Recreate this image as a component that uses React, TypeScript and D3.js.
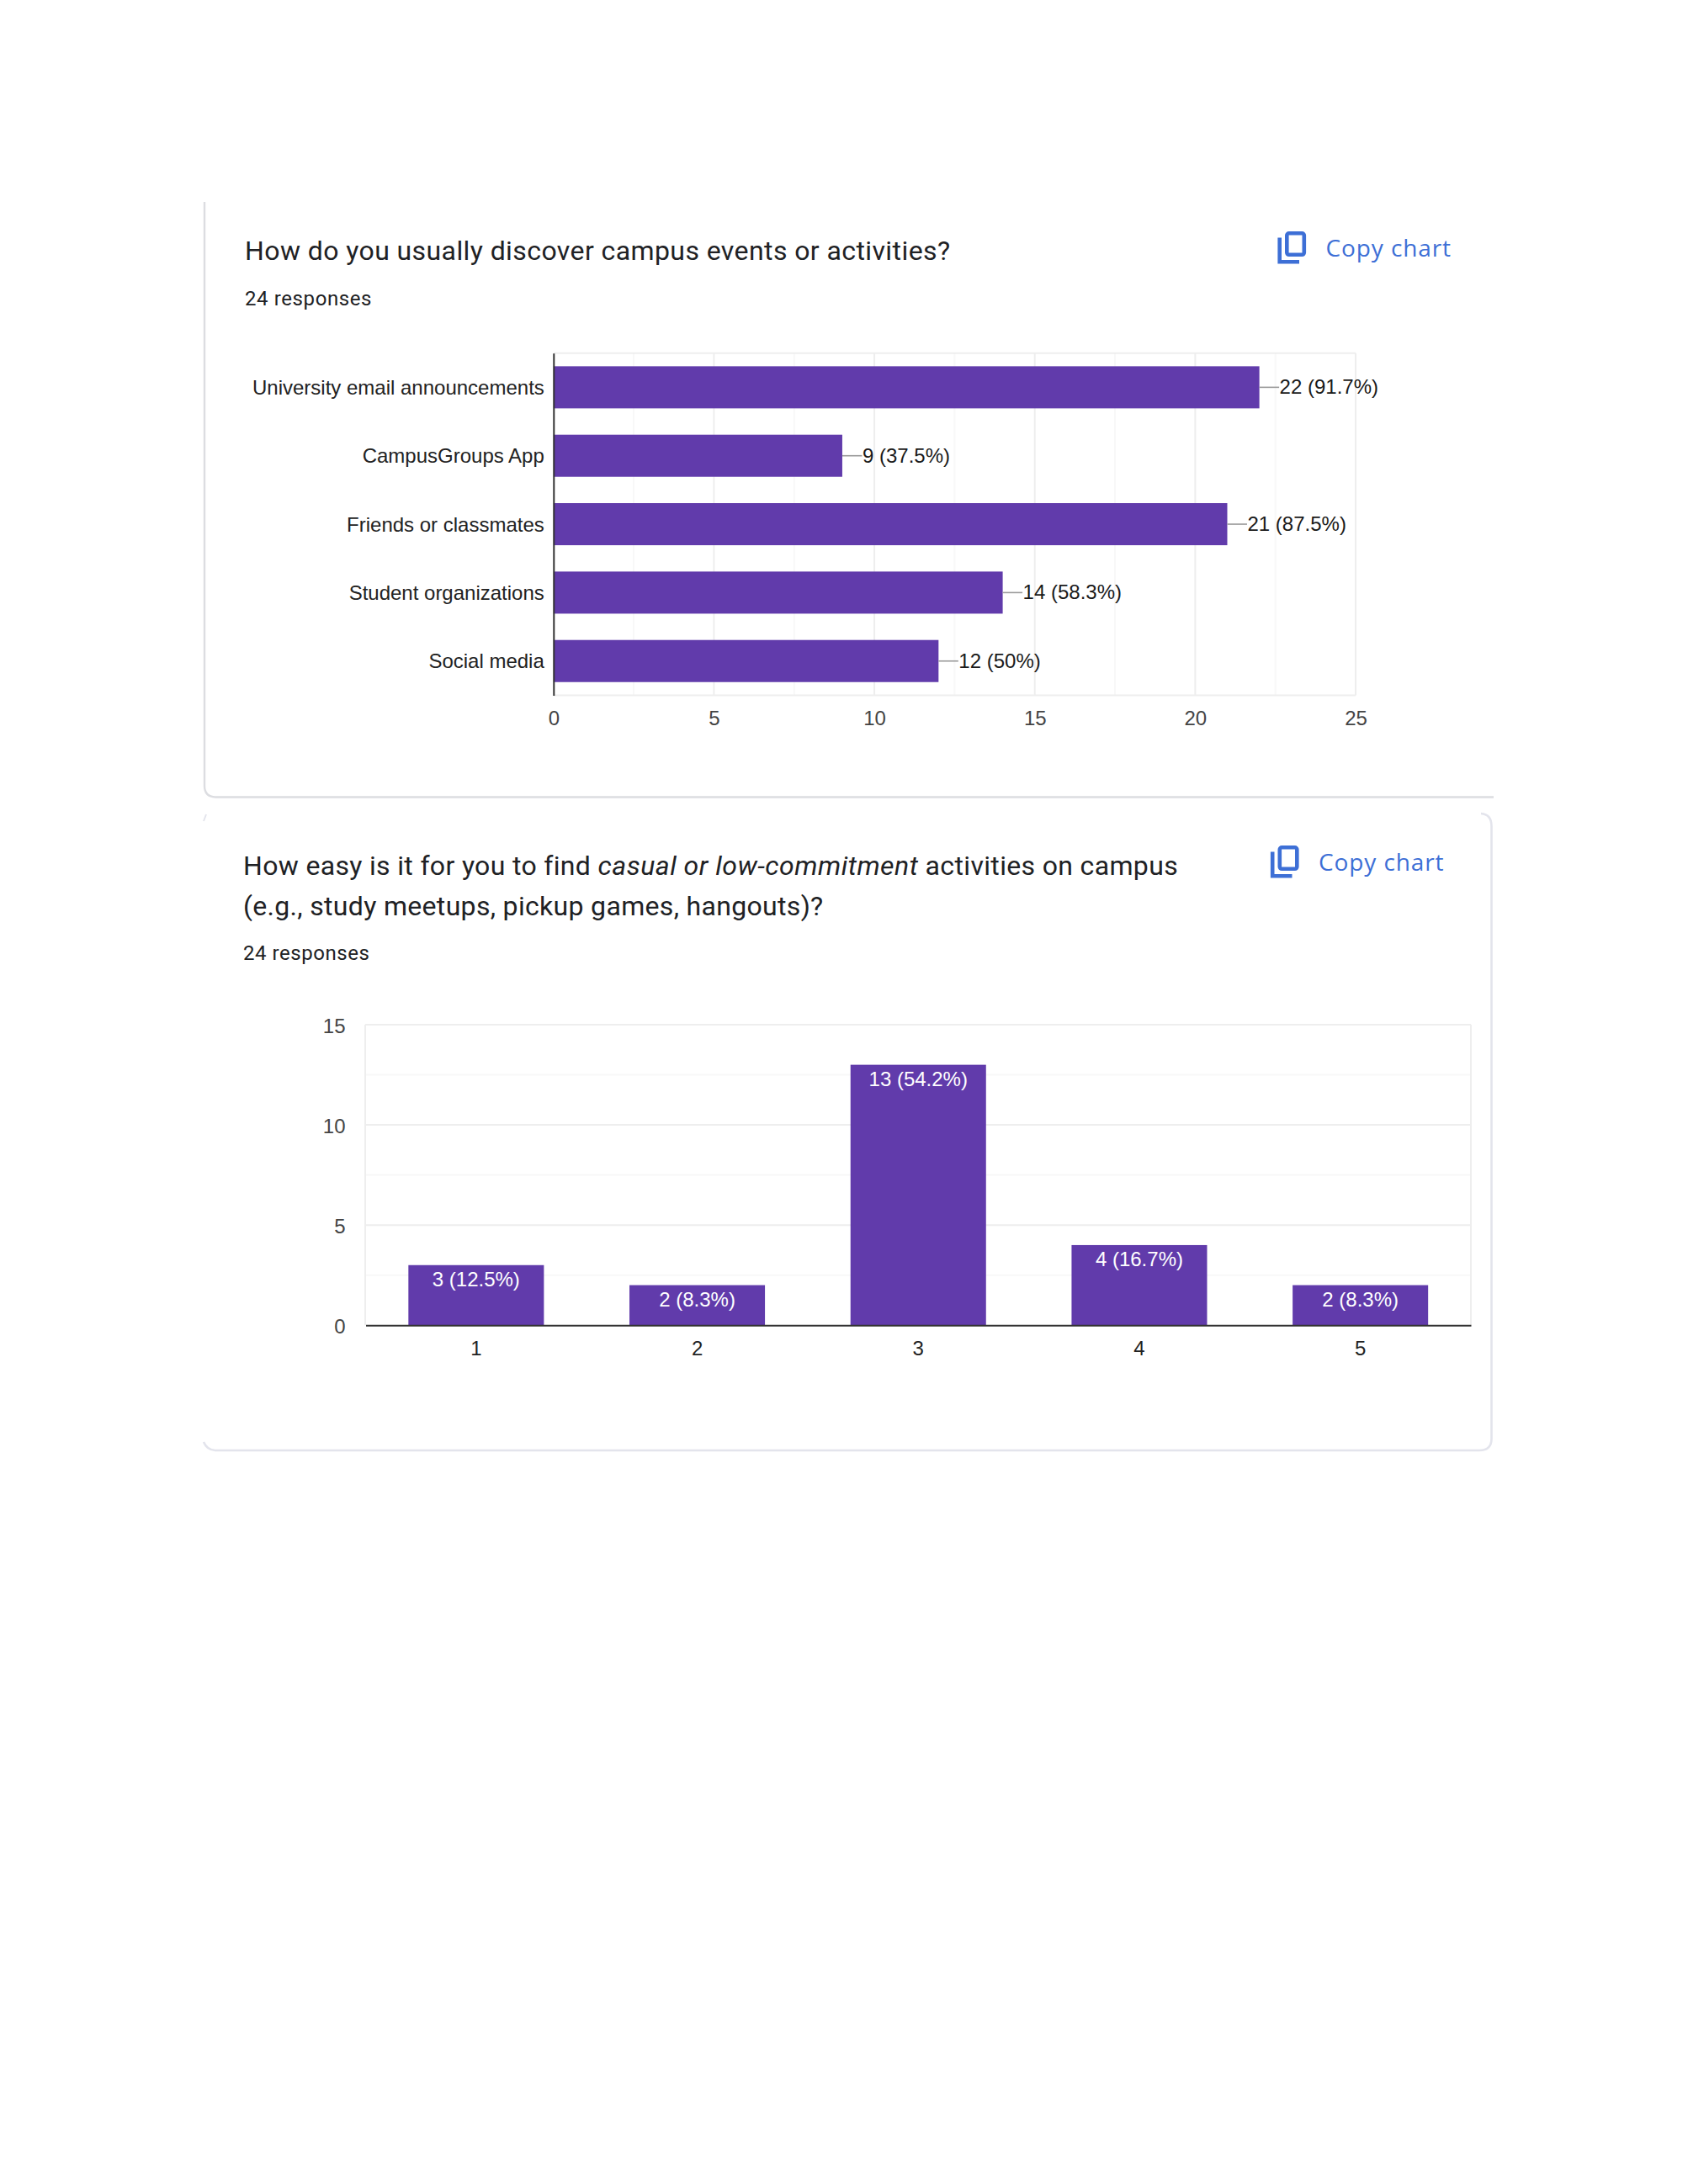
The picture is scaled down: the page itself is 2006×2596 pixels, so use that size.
import * as d3 from "d3";
import React, { useEffect, useRef } from "react";

const sourceLabels = [
  "University email announcements",
  "CampusGroups App",
  "Friends or classmates",
  "Student organizations",
  "Social media",
];
const sourceCounts = [22, 9, 21, 14, 12];
const sourcePercents = ["91.7%", "37.5%", "87.5%", "58.3%", "50%"];
const sourceTicks = [0, 5, 10, 15, 20, 25];
const sourceMinorTicks = [2.5, 7.5, 12.5, 17.5, 22.5];

const easeLabels = ["1", "2", "3", "4", "5"];
const easeCounts = [3, 2, 13, 4, 2];
const easePercents = ["12.5%", "8.3%", "54.2%", "16.7%", "8.3%"];
const easeTicks = [0, 5, 10, 15];
const easeMinorTicks = [2.5, 7.5, 12.5];

const PURPLE = "#613bab";
const GRID = "#eeeeee";
const GRID_MINOR = "#f8f8f8";
const BLUE = "#3d6fd6";
const CHART_FONT = "'Liberation Sans', Arial, sans-serif";
const HEAD_FONT = "Roboto, sans-serif";

type Sel = d3.Selection<SVGGElement, unknown, null, undefined>;

function headText(g: Sel, x: number, y: number, size: number, spacing: number) {
  return g
    .append("text")
    .attr("x", x)
    .attr("y", y)
    .attr("fill", "#202124")
    .style("font-family", HEAD_FONT)
    .style("font-size", `${size}px`)
    .style("letter-spacing", `${spacing}px`);
}

function copyChart(g: Sel, x: number, y: number) {
  // x, y = top left of the front sheet of the icon
  const icon = g
    .append("g")
    .attr("transform", `translate(${x},${y})`)
    .attr("fill", "none")
    .attr("stroke", BLUE)
    .attr("stroke-width", 4.6);
  icon.append("rect").attr("x", 2.3).attr("y", 2.3).attr("width", 20.5).attr("height", 25.5).attr("rx", 2.5);
  icon.append("path").attr("d", "M-6.3 7.5V36.3H17");
  g.append("text")
    .attr("x", x + 48.5)
    .attr("y", y + 30)
    .attr("fill", BLUE)
    .style("font-family", "'Open Sans', sans-serif")
    .style("font-size", "28px")
    .style("letter-spacing", "0.9px")
    .text("Copy chart");
}

function drawCards(g: Sel) {
  const first = g.append("g").attr("fill", "none").attr("stroke", "#dcdde1").attr("stroke-width", 2.4);
  first.append("path").attr("d", "M243 240V934Q243 947.5 257 947.5H1775");
  const second = g.append("g").attr("fill", "none").attr("stroke", "#e3e4ec").attr("stroke-width", 2.6);
  second.append("path").attr("d", "M1760 967Q1772.5 968 1772.5 982V1710Q1772.5 1724 1758 1724H257Q246 1724 242 1714");
  second.append("path").attr("d", "M245 968L242 976").attr("stroke-width", 2);
}

function drawHorizontal(g: Sel) {
  const x = d3.scaleLinear().domain([0, 25]).range([657.8, 1611]);
  const y = d3.scaleBand().domain(sourceLabels).range([419.7, 826.4]).paddingInner(0.385).paddingOuter(0.1925);

  g.append("g")
    .selectAll("line")
    .data(sourceMinorTicks)
    .join("line")
    .attr("x1", (d) => x(d))
    .attr("x2", (d) => x(d))
    .attr("y1", 419.7)
    .attr("y2", 826.4)
    .attr("stroke", GRID_MINOR)
    .attr("stroke-width", 2);

  g.append("g")
    .selectAll("line")
    .data(sourceTicks.slice(1))
    .join("line")
    .attr("x1", (d) => x(d))
    .attr("x2", (d) => x(d))
    .attr("y1", 419.7)
    .attr("y2", 826.4)
    .attr("stroke", GRID)
    .attr("stroke-width", 2);

  g.append("line").attr("x1", x(0)).attr("x2", x(25)).attr("y1", 419.7).attr("y2", 419.7).attr("stroke", GRID).attr("stroke-width", 2);
  g.append("line").attr("x1", x(0)).attr("x2", x(25)).attr("y1", 826.4).attr("y2", 826.4).attr("stroke", GRID).attr("stroke-width", 2);

  g.append("g")
    .selectAll("rect")
    .data(sourceCounts)
    .join("rect")
    .attr("x", x(0))
    .attr("y", (_, i) => y(sourceLabels[i])!)
    .attr("width", (d) => x(d) - x(0))
    .attr("height", y.bandwidth())
    .attr("fill", PURPLE);

  // leader lines and value labels
  g.append("g")
    .selectAll("line")
    .data(sourceCounts)
    .join("line")
    .attr("x1", (d) => x(d))
    .attr("x2", (d) => x(d) + 23.5)
    .attr("y1", (_, i) => y(sourceLabels[i])! + y.bandwidth() / 2)
    .attr("y2", (_, i) => y(sourceLabels[i])! + y.bandwidth() / 2)
    .attr("stroke", "#9a9a9a")
    .attr("stroke-width", 1.6);

  g.append("g")
    .selectAll("text")
    .data(sourceCounts)
    .join("text")
    .attr("x", (d) => x(d) + 24)
    .attr("y", (_, i) => y(sourceLabels[i])! + y.bandwidth() / 2 + 8)
    .attr("fill", "#1a1a1a")
    .style("font-family", CHART_FONT)
    .style("font-size", "24px")
    .text((d, i) => `${d} (${sourcePercents[i]})`);

  const bottom = g
    .append("g")
    .attr("transform", "translate(0,826.4)")
    .call(d3.axisBottom(x).tickValues(sourceTicks).tickSize(0).tickPadding(19));
  bottom.select(".domain").remove();
  bottom.selectAll("text").attr("fill", "#444").style("font-family", CHART_FONT).style("font-size", "24px");

  const left = g
    .append("g")
    .attr("transform", `translate(${x(0)},1)`)
    .call(d3.axisLeft(y).tickSize(0).tickPadding(11));
  left.select(".domain").attr("stroke", "#333").attr("stroke-width", 2).attr("transform", "translate(0,-1)");
  left.selectAll("text").attr("fill", "#222").style("font-family", CHART_FONT).style("font-size", "24px");
}

function drawVertical(g: Sel) {
  const x = d3.scaleBand().domain(easeLabels).range([434.5, 1748]).paddingInner(0.387).paddingOuter(0.1935);
  const y = d3.scaleLinear().domain([0, 15]).range([1575.2, 1218]);

  g.append("g")
    .selectAll("line")
    .data(easeMinorTicks)
    .join("line")
    .attr("x1", 434)
    .attr("x2", 1748)
    .attr("y1", (d) => y(d))
    .attr("y2", (d) => y(d))
    .attr("stroke", GRID_MINOR)
    .attr("stroke-width", 2);

  g.append("g")
    .selectAll("line")
    .data(easeTicks.slice(1))
    .join("line")
    .attr("x1", 434)
    .attr("x2", 1748)
    .attr("y1", (d) => y(d))
    .attr("y2", (d) => y(d))
    .attr("stroke", GRID)
    .attr("stroke-width", 2);

  g.append("line").attr("x1", 434).attr("x2", 434).attr("y1", 1218).attr("y2", 1575.2).attr("stroke", GRID).attr("stroke-width", 2);
  g.append("line").attr("x1", 1748).attr("x2", 1748).attr("y1", 1218).attr("y2", 1575.2).attr("stroke", GRID).attr("stroke-width", 2);

  g.append("g")
    .selectAll("rect")
    .data(easeCounts)
    .join("rect")
    .attr("x", (_, i) => x(easeLabels[i])!)
    .attr("y", (d) => y(d))
    .attr("width", x.bandwidth())
    .attr("height", (d) => y(0) - y(d))
    .attr("fill", PURPLE);

  g.append("g")
    .selectAll("text")
    .data(easeCounts)
    .join("text")
    .attr("x", (_, i) => x(easeLabels[i])! + x.bandwidth() / 2)
    .attr("y", (d) => y(d) + 25)
    .attr("text-anchor", "middle")
    .attr("fill", "#fff")
    .style("font-family", CHART_FONT)
    .style("font-size", "24px")
    .text((d, i) => `${d} (${easePercents[i]})`);

  const left = g
    .append("g")
    .attr("transform", "translate(434,1.6)")
    .call(d3.axisLeft(y).tickValues(easeTicks).tickSize(0).tickPadding(23.5));
  left.select(".domain").remove();
  left.selectAll("text").attr("fill", "#444").style("font-family", CHART_FONT).style("font-size", "24px");

  const bottom = g
    .append("g")
    .attr("transform", "translate(0,1575.2)")
    .call(d3.axisBottom(x).tickSize(0).tickPadding(19));
  bottom.select(".domain").attr("stroke", "#333").attr("stroke-width", 2);
  bottom.selectAll("text").attr("fill", "#222").style("font-family", CHART_FONT).style("font-size", "24px");
}

const App: React.FC = () => {
  const ref = useRef<SVGSVGElement>(null);

  useEffect(() => {
    if (!ref.current) return;
    const svg = d3.select(ref.current);
    svg.selectAll("*").remove();
    const root = svg.append("g") as unknown as Sel;

    drawCards(root);

    headText(root, 291, 309, 32, 0.41).text("How do you usually discover campus events or activities?");
    headText(root, 291, 363, 24, 0.6).text("24 responses");
    copyChart(root, 1527, 275);
    drawHorizontal(root);

    const line = headText(root, 289, 1039.5, 32, 0.33);
    line.append("tspan").text("How easy is it for you to find ");
    line.append("tspan").style("font-style", "italic").style("letter-spacing", "0.5px").text("casual or low-commitment");
    line.append("tspan").style("letter-spacing", "0.34px").text(" activities on campus");
    headText(root, 289, 1087.5, 32, 0.32).text("(e.g., study meetups, pickup games, hangouts)?");
    headText(root, 289, 1141, 24, 0.55).text("24 responses");
    copyChart(root, 1518.5, 1005);
    drawVertical(root);
  }, []);

  return (
    <svg
      ref={ref}
      width={2006}
      height={2596}
      style={{ position: "absolute", left: 0, top: 0, background: "#fff" }}
    ></svg>
  );
};

export default App;
